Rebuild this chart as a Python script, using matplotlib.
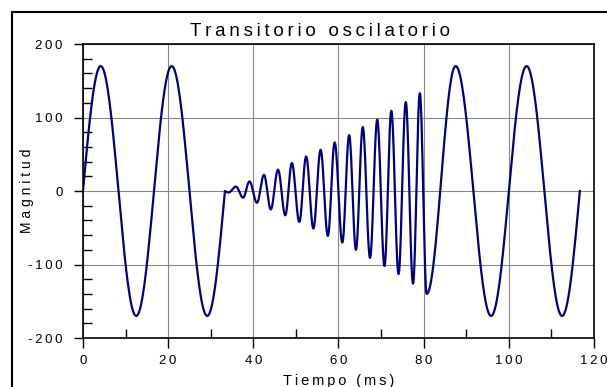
import numpy as np
import matplotlib
matplotlib.use('Agg')
import matplotlib.pyplot as plt
from matplotlib.patches import Rectangle
from matplotlib.ticker import MultipleLocator, FixedLocator, FuncFormatter

#%% datos (extremos de la senal, ms / magnitud)

t_knots = [0, 4.17, 12.5, 20.83, 29.17, 33.33,
           34.2, 35.9, 37.6, 39.1, 40.85, 42.5, 44.1, 45.8, 47.5,
           49.05, 50.8, 52.4, 54.1, 55.8, 57.5, 59.1, 60.9, 62.5, 64.1,
           65.7, 67.4, 69.1, 70.8, 72.4, 74.1, 75.8, 77.5, 79.1, 80.7,
           87.5, 95.83, 104.17, 112.5, 116.67]
v_knots = [0, 170, -170, 170, -170, 0,
           -2, 6, -9, 13, -16, 22, -25, 29, -33,
           38, -42, 47, -51, 56, -61, 66, -70, 76, -80,
           87, -91, 97, -102, 109, -113, 121, -126, 133, -140,
           170, -170, 170, -170, 0]

x_ticks = [0, 20, 40, 60, 80, 100, 120]
x_minor = [10, 30, 50, 70, 90, 110]
y_ticks = [-200, -100, 0, 100, 200]

titulo = 'Transitorio oscilatorio'
xlab = 'Tiempo (ms)'
ylab = 'Magnitud'

#%% curva: arcos de seno entre extremos

def arco(t0, v0, t1, v1):
    s = np.linspace(0, 1, 40)
    if v0 == 0:
        v = v1 * np.sin(np.pi / 2 * s)
    elif v1 == 0:
        v = v0 * np.cos(np.pi / 2 * s)
    else:
        v = (v0 + v1) / 2 + (v0 - v1) / 2 * np.cos(np.pi * s)
    return t0 + (t1 - t0) * s, v

t_all = []
v_all = []
for i in range(len(t_knots) - 1):
    tt, vv = arco(t_knots[i], v_knots[i], t_knots[i + 1], v_knots[i + 1])
    t_all.append(tt)
    v_all.append(vv)
t_all = np.concatenate(t_all)
v_all = np.concatenate(v_all)

#%% fuente

plt.rcParams['font.family'] = ['Liberation Sans', 'DejaVu Sans']

def espaciar(txt, sep='\u2009'):
    return sep.join(txt)

#%% figura

fig = plt.figure(figsize=(6.07, 3.87), dpi=100)
ax = fig.add_axes([0.1367, 0.1266, 0.8419, 0.7597])

ax.plot(t_all, v_all, color='#000080', lw=1.6)

ax.set_xlim(0, 120)
ax.set_ylim(-200, 200)
ax.set_xticks(x_ticks)
ax.set_yticks(y_ticks)
ax.xaxis.set_minor_locator(FixedLocator(x_minor))
ax.yaxis.set_minor_locator(MultipleLocator(20))
fmt = FuncFormatter(lambda v, p: espaciar(str(int(v))))
ax.xaxis.set_major_formatter(fmt)
ax.yaxis.set_major_formatter(fmt)

ax.tick_params(which='major', direction='out', length=7, width=1, labelsize=9.5)
ax.tick_params(which='minor', direction='in', length=6.5, width=1)
ax.tick_params(axis='y', which='major', length=6.5, pad=8)
ax.tick_params(axis='x', which='major', pad=5)

ax.grid(True, which='major', color='#888888', lw=0.8)
for s in ax.spines.values():
    s.set_linewidth(1.2)

ax.set_xlabel(espaciar(xlab), fontsize=10.5)
ax.xaxis.set_label_coords(0.5, -0.122)
ax.set_ylabel(espaciar(ylab, ' '), fontsize=10)
ax.yaxis.set_label_coords(-0.096, 0.5)

fig.text(320 / 607, 1 - 31 / 387, espaciar(titulo), fontsize=13.5,
         ha='center', va='center')

fig.patches.append(Rectangle((12 / 607, -0.1), 1.2, 1 - 12 / 387 + 0.1,
                             transform=fig.transFigure, fill=False,
                             edgecolor='black', lw=1.5))

fig.savefig('out.png', dpi=100)
